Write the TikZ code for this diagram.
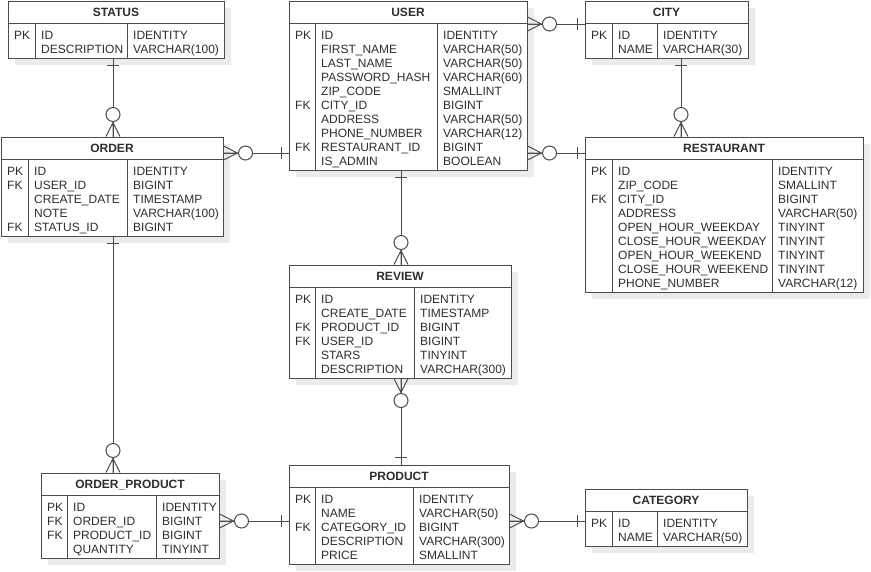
\documentclass[tikz,border=0pt]{standalone}
\usepackage{fontspec}
\setmainfont{Liberation Sans}
\usetikzlibrary{fit,shadows}

\colorlet{linec}{black!70}
\colorlet{textc}{black!82}

\tikzset{
  rule/.style={draw=linec, line width=1pt},
  tbl/.style={draw=linec, line width=1pt, fill=white, inner sep=0pt,
    drop shadow={shadow xshift=7pt, shadow yshift=-7pt, fill=black!8, opacity=1}},
  hdr/.style={anchor=base, inner sep=0pt, text=textc, font=\fontsize{12pt}{14pt}\selectfont\bfseries},
  cell/.style={anchor=base west, inner sep=0pt, text=textc, font=\fontsize{12pt}{14pt}\selectfont},
  rel/.style={draw=linec, line width=1pt},
}

% entity table: id, title, left, top, right, bottom, divider 1, divider 2, rows key/name/type
\newcommand\ertable[9]{%
  \node[tbl, fit={(#3,#4) (#5,#6)}] (#1) {};
  \draw[rule] (#3,#4+22) -- (#5,#4+22);
  \draw[rule] (#7,#4+22) -- (#7,#6);
  \draw[rule] (#8,#4+22) -- (#8,#6);
  \node[hdr] (#1-title) at ({(#3+#5)/2},#4+15) {#2};
  \foreach \kk/\nn/\ty [count=\i] in {#9} {
    \node[cell] (#1-k\i) at (#3+6, #4+24+14*\i) {\kk};
    \node[cell] (#1-n\i) at (#7+6, #4+24+14*\i) {\nn};
    \node[cell] (#1-t\i) at (#8+6, #4+24+14*\i) {\ty};
  }
}

% "zero or many" side: crow's foot and circle at #1, pointing away at angle #2
\newcommand\relmany[2]{%
  \begin{scope}[shift={(#1)}, rotate=#2]
    \draw[rel] (0,-7) -- (14,0) -- (0,7) (0,0) -- (14,0);
    \draw[rel, fill=white] (22,0) circle (7);
  \end{scope}
}
% "exactly one" side: a single bar
\newcommand\relone[2]{%
  \begin{scope}[shift={(#1)}, rotate=#2]
    \draw[rel] (7,-6) -- (7,6);
  \end{scope}
}

\begin{document}
\begin{tikzpicture}[x=1pt, y=-1pt]
\useasboundingbox (0,0) rectangle (871,571);

\ertable{status}{STATUS}{8}{1}{224}{58}{35}{127}{%
  PK/ID/IDENTITY, /DESCRIPTION/VARCHAR(100)}

\ertable{user}{USER}{289}{1}{527}{170}{315}{437}{%
  PK/ID/IDENTITY, /FIRST\_NAME/VARCHAR(50), /LAST\_NAME/VARCHAR(50),
  /PASSWORD\_HASH/VARCHAR(60), /ZIP\_CODE/SMALLINT, FK/CITY\_ID/BIGINT,
  /ADDRESS/VARCHAR(50), /PHONE\_NUMBER/VARCHAR(12), FK/RESTAURANT\_ID/BIGINT,
  /IS\_ADMIN/BOOLEAN}

\ertable{city}{CITY}{585}{1}{748}{58}{612}{657}{%
  PK/ID/IDENTITY, /NAME/VARCHAR(30)}

\ertable{order}{ORDER}{1}{137}{223}{236}{28}{127}{%
  PK/ID/IDENTITY, FK/USER\_ID/BIGINT, /CREATE\_DATE/TIMESTAMP,
  /NOTE/VARCHAR(100), FK/STATUS\_ID/BIGINT}

\ertable{restaurant}{RESTAURANT}{585}{137}{863}{292}{612}{772}{%
  PK/ID/IDENTITY, /ZIP\_CODE/SMALLINT, FK/CITY\_ID/BIGINT, /ADDRESS/VARCHAR(50),
  /OPEN\_HOUR\_WEEKDAY/TINYINT, /CLOSE\_HOUR\_WEEKDAY/TINYINT,
  /OPEN\_HOUR\_WEEKEND/TINYINT, /CLOSE\_HOUR\_WEEKEND/TINYINT,
  /PHONE\_NUMBER/VARCHAR(12)}

\ertable{review}{REVIEW}{289}{265}{511}{378}{315}{414}{%
  PK/ID/IDENTITY, /CREATE\_DATE/TIMESTAMP, FK/PRODUCT\_ID/BIGINT,
  FK/USER\_ID/BIGINT, /STARS/TINYINT, /DESCRIPTION/VARCHAR(300)}

\ertable{orderproduct}{ORDER\_PRODUCT}{41}{473}{219}{558}{67}{156}{%
  PK/ID/IDENTITY, FK/ORDER\_ID/BIGINT, FK/PRODUCT\_ID/BIGINT, /QUANTITY/TINYINT}

\ertable{product}{PRODUCT}{289}{465}{509}{564}{315}{413}{%
  PK/ID/IDENTITY, /NAME/VARCHAR(50), FK/CATEGORY\_ID/BIGINT,
  /DESCRIPTION/VARCHAR(300), /PRICE/SMALLINT}

\ertable{category}{CATEGORY}{585}{489}{747}{546}{612}{657}{%
  PK/ID/IDENTITY, /NAME/VARCHAR(50)}

% relationships
\draw[rel] (113,0 |- status.south) -- (113,0 |- order.north);
\relone{113,0 |- status.south}{-90}
\relmany{113,0 |- order.north}{90}

\draw[rel] (order.east |- 0,153) -- (user.west |- 0,153);
\relmany{order.east |- 0,153}{0}
\relone{user.west |- 0,153}{180}

\draw[rel] (user.east |- 0,24) -- (city.west |- 0,24);
\relmany{user.east |- 0,24}{0}
\relone{city.west |- 0,24}{180}

\draw[rel] (user.east |- 0,153) -- (restaurant.west |- 0,153);
\relmany{user.east |- 0,153}{0}
\relone{restaurant.west |- 0,153}{180}

\draw[rel] (681,0 |- city.south) -- (681,0 |- restaurant.north);
\relone{681,0 |- city.south}{-90}
\relmany{681,0 |- restaurant.north}{90}

\draw[rel] (401,0 |- user.south) -- (401,0 |- review.north);
\relone{401,0 |- user.south}{-90}
\relmany{401,0 |- review.north}{90}

\draw[rel] (401,0 |- review.south) -- (401,0 |- product.north);
\relmany{401,0 |- review.south}{-90}
\relone{401,0 |- product.north}{90}

\draw[rel] (113,0 |- order.south) -- (113,0 |- orderproduct.north);
\relone{113,0 |- order.south}{-90}
\relmany{113,0 |- orderproduct.north}{90}

\draw[rel] (orderproduct.east |- 0,521) -- (product.west |- 0,521);
\relmany{orderproduct.east |- 0,521}{0}
\relone{product.west |- 0,521}{180}

\draw[rel] (product.east |- 0,521) -- (category.west |- 0,521);
\relmany{product.east |- 0,521}{0}
\relone{category.west |- 0,521}{180}
\end{tikzpicture}
\end{document}
